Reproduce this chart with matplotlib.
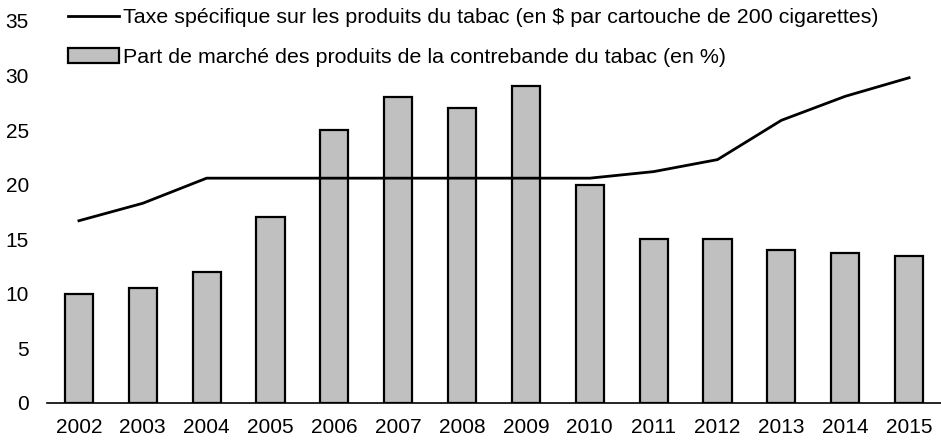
import numpy as np
import matplotlib.pyplot as plt

plt.rcParams['font.family'] = ['Liberation Sans', 'DejaVu Sans']

# data
years = ['2002', '2003', '2004', '2005', '2006', '2007', '2008',
         '2009', '2010', '2011', '2012', '2013', '2014', '2015']
contraband_share = [10, 10.5, 12, 17, 25, 28, 27, 29, 20, 15, 15, 14, 13.75, 13.5]
tax_per_carton = [16.7, 18.3, 20.6, 20.6, 20.6, 20.6, 20.6, 20.6, 20.6,
                  21.2, 22.3, 25.9, 28.1, 29.8]

label_tax = 'Taxe spécifique sur les produits du tabac (en $ par cartouche de 200 cigarettes)'
label_share = 'Part de marché des produits de la contrebande du tabac (en %)'

fig = plt.figure(figsize=(9.41, 4.41), dpi=100)
ax = fig.add_axes([47 / 941, 1 - 403 / 441, 894 / 941, (403 - 21) / 441])

x = np.arange(len(years))
bars = ax.bar(x, contraband_share, width=0.44, color='#c0c0c0',
              edgecolor='black', linewidth=1.6, label=label_share, zorder=2)
line, = ax.plot(x, tax_per_carton, color='black', linewidth=2.0,
                label=label_tax, zorder=3)

ax.set_xlim(-0.5, len(years) - 0.5)
ax.set_ylim(0, 35)
ax.set_yticks(range(0, 36, 5))
ax.set_xticks(x)
ax.set_xticklabels(years)
ax.tick_params(axis='both', length=0, labelsize=15, colors='black')
ax.tick_params(axis='y', pad=13)
ax.tick_params(axis='x', pad=11)
for side in ['top', 'right', 'left']:
    ax.spines[side].set_visible(False)
ax.spines['bottom'].set_linewidth(1.2)

fig.legend(handles=[line, bars], labels=[label_tax, label_share],
           loc='upper left', bbox_to_anchor=(68 / 941, 1 - 8 / 441),
           frameon=False, fontsize=15.4, handlelength=2.4, handletextpad=0.15,
           labelspacing=1.0, borderpad=0, borderaxespad=0)

fig.savefig('out.png', dpi=100)
